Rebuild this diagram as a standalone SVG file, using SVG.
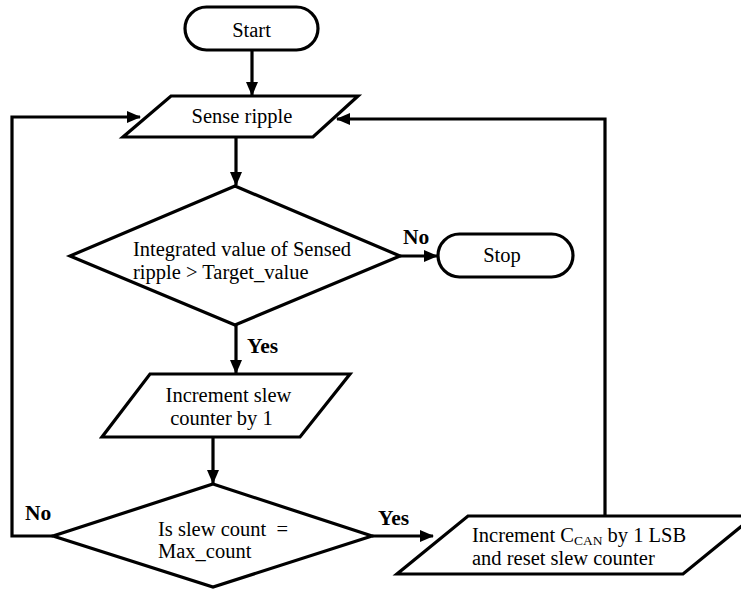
<svg xmlns="http://www.w3.org/2000/svg" width="741" height="592" viewBox="0 0 741 592">
<style>
  .shape { fill: #ffffff; stroke: #000000; stroke-width: 3.2; stroke-linejoin: miter; }
  .conn { fill: none; stroke: #000000; stroke-width: 3.2; stroke-linejoin: miter; }
  .t { font-family: "Liberation Serif", "Times New Roman", serif; font-size: 20.5px; fill: #000000; }
  .lbl { font-family: "Liberation Serif", "Times New Roman", serif; font-size: 21.5px; font-weight: bold; fill: #000000; }
  .sub { font-size: 13.5px; }
</style>
<defs>
  <marker id="ah" markerWidth="14" markerHeight="12" refX="13" refY="6" orient="auto" markerUnits="userSpaceOnUse">
    <path d="M0,0 L14,6 L0,12 z" fill="#000000"/>
  </marker>
</defs>
<rect width="741" height="592" fill="#ffffff"/>

<g id="connectors">
  <path class="conn" d="M252,50 L252,95" marker-end="url(#ah)"/>
  <path class="conn" d="M236,137 L236,185" marker-end="url(#ah)"/>
  <path class="conn" d="M400,256 L437,256" marker-end="url(#ah)"/>
  <path class="conn" d="M236,325 L236,373" marker-end="url(#ah)"/>
  <path class="conn" d="M213,437 L213,483" marker-end="url(#ah)"/>
  <path class="conn" d="M372,536 L433,536" marker-end="url(#ah)"/>
  <path class="conn" d="M53,536 L12,536 L12,117 L140,117" marker-end="url(#ah)"/>
  <path class="conn" d="M605,516 L605,119 L337,119" marker-end="url(#ah)"/>
</g>

<g id="start">
  <rect class="shape" x="185" y="7" width="133" height="43" rx="21.5" ry="21.5"/>
  <text class="t" x="251.5" y="37" text-anchor="middle">Start</text>
</g>

<g id="sense-ripple">
  <polygon class="shape" points="171,96 358,96 313,137 123,137"/>
  <text class="t" x="242" y="123" text-anchor="middle">Sense ripple</text>
</g>

<g id="decision-ripple">
  <polygon class="shape" points="235,186 400,256 235,325 70,256"/>
  <text class="t" x="133" y="256">Integrated value of Sensed</text>
  <text class="t" x="133" y="279">ripple &gt; Target_value</text>
</g>

<g id="stop">
  <rect class="shape" x="438" y="234" width="135" height="43" rx="21.5" ry="21.5"/>
  <text class="t" x="502" y="262" text-anchor="middle">Stop</text>
</g>

<g id="increment-slew">
  <polygon class="shape" points="150,374 350,374 300,437 102,437"/>
  <text class="t" x="228.5" y="402" text-anchor="middle">Increment slew</text>
  <text class="t" x="221.5" y="425" text-anchor="middle">counter by 1</text>
</g>

<g id="decision-count">
  <polygon class="shape" points="213,484 372,536 213,587 53,536"/>
  <text class="t" x="158" y="536" xml:space="preserve">Is slew count  =</text>
  <text class="t" x="158" y="558">Max_count</text>
</g>

<g id="increment-ccan">
  <polygon class="shape" points="468,516 754,516 683,574 397,574"/>
  <text class="t" x="472" y="542">Increment C<tspan class="sub" dy="3">CAN</tspan><tspan dy="-3"> by 1 LSB</tspan></text>
  <text class="t" x="472" y="565">and reset slew counter</text>
</g>

<g id="labels">
  <text class="lbl" x="403" y="244">No</text>
  <text class="lbl" x="247" y="353">Yes</text>
  <text class="lbl" x="25" y="520">No</text>
  <text class="lbl" x="378" y="525">Yes</text>
</g>
</svg>
